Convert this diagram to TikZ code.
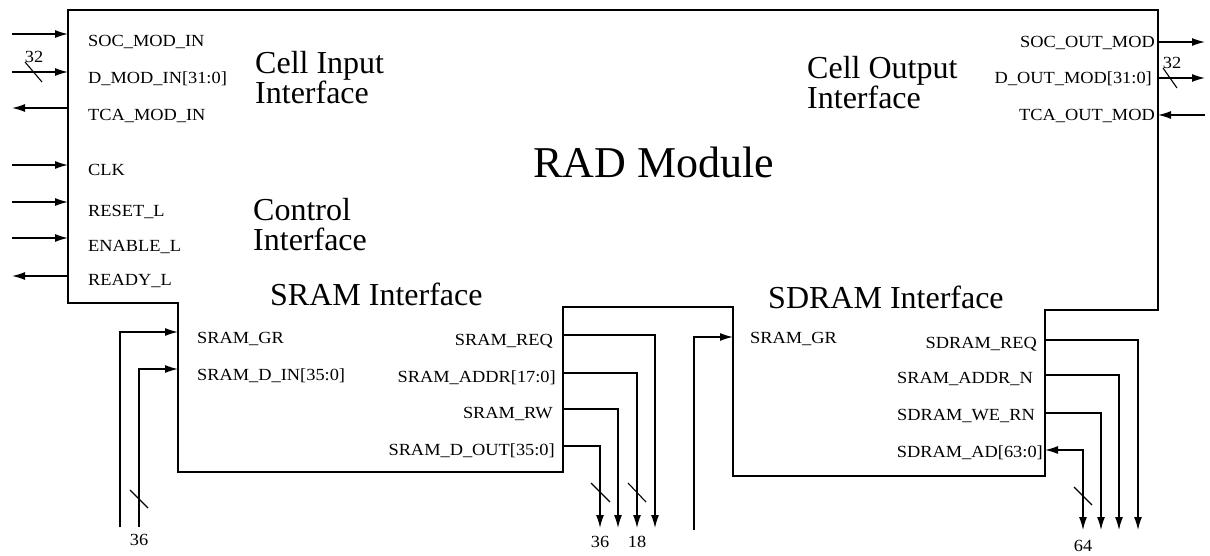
\documentclass[tikz,border=0pt]{standalone}
\usepackage{fontspec}
\setmainfont{Liberation Serif}
\newfontfamily\sigfont[FakeStretch=1.08]{Liberation Serif}
\usetikzlibrary{arrows.meta}
\tikzset{
  sig/.style={font=\sigfont\fontsize{17}{19}\selectfont, inner sep=0pt},
  ttl/.style={font=\fontsize{32}{32}\selectfont, inner sep=0pt},
  wire/.style={line width=1.3pt},
  arr/.style={wire, -{Latex[length=13pt,width=8pt]}},
  barr/.style={wire, {Latex[length=13pt,width=8pt]}-{Latex[length=13pt,width=8pt]}},
  busmark/.style={line width=1.1pt},
  outline/.style={line width=1.5pt},
}
\begin{document}
\begin{tikzpicture}[x=1pt,y=-1pt]
\useasboundingbox (0,0) rectangle (1210,555);

% module outline
\draw[outline] (68,10) -- (1158,10) -- (1158,310) -- (1045,310) -- (1045,476)
  -- (733,476) -- (733,307) -- (563,307) -- (563,472) -- (178,472) -- (178,303)
  -- (68,303) -- cycle;

% titles
\node[font=\fontsize{44}{44}\selectfont, inner sep=0pt, anchor=base west] (rad) at (533,177) {RAD Module};
\node[ttl, anchor=base west] (cin1) at (255,73) {Cell Input};
\node[ttl, anchor=base west] (cin2) at (255,103) {Interface};
\node[ttl, anchor=base west] (cout1) at (807,78) {Cell Output};
\node[ttl, anchor=base west] (cout2) at (807,108) {Interface};
\node[ttl, anchor=base west] (ctl1) at (253,220) {Control};
\node[ttl, anchor=base west] (ctl2) at (253,250) {Interface};
\node[ttl, anchor=base west] (srami) at (270,305) {SRAM Interface};
\node[ttl, anchor=base west] (sdrami) at (768,308) {SDRAM Interface};

% left signals
\node[sig, anchor=base west] (tSOC) at (88,46) {SOC\_MOD\_IN};
\node[sig, anchor=base west] (tDMI) at (88,83) {D\_MOD\_IN[31:0]};
\node[sig, anchor=base west] (tTCA) at (88,120) {TCA\_MOD\_IN};
\node[sig, anchor=base west] (tCLK) at (88,175) {CLK};
\node[sig, anchor=base west] (tRST) at (88,216) {RESET\_L};
\node[sig, anchor=base west] (tENA) at (88,251) {ENABLE\_L};
\node[sig, anchor=base west] (tRDY) at (88,285) {READY\_L};

\coordinate (pSOC) at (68,34);  \coordinate (eSOC) at (12,34);
\coordinate (pDMI) at (68,72);  \coordinate (eDMI) at (12,72);
\coordinate (pTCA) at (68,108); \coordinate (eTCA) at (12,108);
\coordinate (pCLK) at (68,165); \coordinate (eCLK) at (12,165);
\coordinate (pRST) at (68,202); \coordinate (eRST) at (12,202);
\coordinate (pENA) at (68,238); \coordinate (eENA) at (12,238);
\coordinate (pRDY) at (68,276); \coordinate (eRDY) at (12,276);
\draw[arr] (eSOC) -- (pSOC);
\draw[arr] (eDMI) -- (pDMI);
\draw[arr] (pTCA) -- (eTCA);
\draw[arr] (eCLK) -- (pCLK);
\draw[arr] (eRST) -- (pRST);
\draw[arr] (eENA) -- (pENA);
\draw[arr] (pRDY) -- (eRDY);
\coordinate (sl1a) at (25,62); \coordinate (sl1b) at (42,82);
\draw[busmark] (sl1a) -- (sl1b);
\node[sig, anchor=base] (n32a) at (34,62) {32};

% right signals
\node[sig, anchor=base east] (tSOCo) at (1155,47) {SOC\_OUT\_MOD};
\node[sig, anchor=base east] (tDOM) at (1152,83) {D\_OUT\_MOD[31:0]};
\node[sig, anchor=base east] (tTCAo) at (1155,120) {TCA\_OUT\_MOD};
\coordinate (pSOCo) at (1158,42);  \coordinate (eSOCo) at (1205,42);
\coordinate (pDOM) at (1158,78);   \coordinate (eDOM) at (1205,78);
\coordinate (pTCAo) at (1158,115); \coordinate (eTCAo) at (1205,115);
\draw[arr] (pSOCo) -- (eSOCo);
\draw[arr] (pDOM) -- (eDOM);
\draw[arr] (eTCAo) -- (pTCAo);
\coordinate (sl2a) at (1163,68); \coordinate (sl2b) at (1177,88);
\draw[busmark] (sl2a) -- (sl2b);
\node[sig, anchor=base] (n32b) at (1172,68) {32};

% SRAM interface, left pins
\node[sig, anchor=base west] (tSGR) at (197,343) {SRAM\_GR};
\node[sig, anchor=base west] (tSDI) at (197,380) {SRAM\_D\_IN[35:0]};
\coordinate (pSGR) at (178,332); \coordinate (bSGR) at (120,332); \coordinate (eSGR) at (120,527);
\coordinate (pSDI) at (178,369); \coordinate (bSDI) at (139,369); \coordinate (eSDI) at (139,527);
\draw[arr] (eSGR) -- (bSGR) -- (pSGR);
\draw[arr] (eSDI) -- (bSDI) -- (pSDI);
\coordinate (sl3a) at (130,490); \coordinate (sl3b) at (148,508);
\draw[busmark] (sl3a) -- (sl3b);
\node[sig, anchor=base] (n36a) at (139,545) {36};

% SRAM interface, right pins
\node[sig, anchor=base east] (tSRQ) at (553,345) {SRAM\_REQ};
\node[sig, anchor=base east] (tSAD) at (556,382) {SRAM\_ADDR[17:0]};
\node[sig, anchor=base east] (tSRW) at (553,418) {SRAM\_RW};
\node[sig, anchor=base east] (tSDO) at (555,455) {SRAM\_D\_OUT[35:0]};
\coordinate (pSRQ) at (563,335); \coordinate (bSRQ) at (655,335); \coordinate (eSRQ) at (655,528);
\coordinate (pSAD) at (563,373); \coordinate (bSAD) at (637,373); \coordinate (eSAD) at (637,528);
\coordinate (pSRW) at (563,409); \coordinate (bSRW) at (618,409); \coordinate (eSRW) at (618,528);
\coordinate (pSDO) at (563,446); \coordinate (bSDO) at (600,446); \coordinate (eSDO) at (600,528);
\draw[arr] (pSRQ) -- (bSRQ) -- (eSRQ);
\draw[arr] (pSAD) -- (bSAD) -- (eSAD);
\draw[arr] (pSRW) -- (bSRW) -- (eSRW);
\draw[arr] (pSDO) -- (bSDO) -- (eSDO);
\coordinate (sl4a) at (591,483); \coordinate (sl4b) at (610,502);
\draw[busmark] (sl4a) -- (sl4b);
\coordinate (sl5a) at (628,483); \coordinate (sl5b) at (646,502);
\draw[busmark] (sl5a) -- (sl5b);
\node[sig, anchor=base] (n36b) at (600,547) {36};
\node[sig, anchor=base] (n18) at (637,547) {18};

% SDRAM interface, left pin
\node[sig, anchor=base west] (tDGR) at (750,343) {SRAM\_GR};
\coordinate (pDGR) at (733,337); \coordinate (bDGR) at (694,337); \coordinate (eDGR) at (694,530);
\draw[arr] (eDGR) -- (bDGR) -- (pDGR);

% SDRAM interface, right pins
\node[sig, anchor=base east] (tDRQ) at (1037,348) {SDRAM\_REQ};
\node[sig, anchor=base east] (tDAN) at (1033,383) {SRAM\_ADDR\_N};
\node[sig, anchor=base east] (tDWE) at (1035,420) {SDRAM\_WE\_RN};
\node[sig, anchor=base east] (tDAD) at (1043,457) {SDRAM\_AD[63:0]};
\coordinate (pDRQ) at (1045,340); \coordinate (bDRQ) at (1138,340); \coordinate (eDRQ) at (1138,530);
\coordinate (pDAN) at (1045,375); \coordinate (bDAN) at (1119,375); \coordinate (eDAN) at (1119,530);
\coordinate (pDWE) at (1045,413); \coordinate (bDWE) at (1101,413); \coordinate (eDWE) at (1101,530);
\coordinate (pDAD) at (1045,450); \coordinate (bDAD) at (1083,450); \coordinate (eDAD) at (1083,530);
\draw[arr] (pDRQ) -- (bDRQ) -- (eDRQ);
\draw[arr] (pDAN) -- (bDAN) -- (eDAN);
\draw[arr] (pDWE) -- (bDWE) -- (eDWE);
\draw[barr] (pDAD) -- (bDAD) -- (eDAD);
\coordinate (sl6a) at (1074,487); \coordinate (sl6b) at (1092,505);
\draw[busmark] (sl6a) -- (sl6b);
\node[sig, anchor=base] (n64) at (1083,551) {64};
\end{tikzpicture}
\end{document}
